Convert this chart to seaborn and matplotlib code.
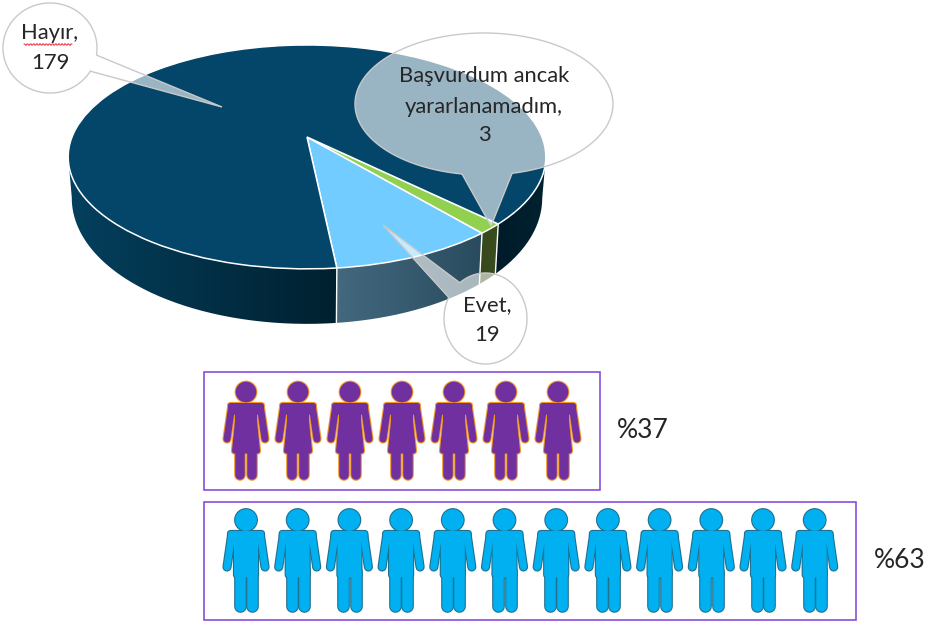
import numpy as np
import matplotlib
matplotlib.use("Agg")
import matplotlib.pyplot as plt
import matplotlib.transforms as mtransforms
from matplotlib.colors import LinearSegmentedColormap
from matplotlib.path import Path
from matplotlib.patches import PathPatch, Circle, Polygon, Rectangle
import seaborn as sns

# ---- data ----
categories = ["Evet", "Başvurdum ancak\nyararlanamadım", "Hayır"]
values = [19, 3, 179]
women_share = 37
men_share = 63
women_icons = 7
men_icons = 12

# ---- style ----
pie_colors = ["#73CCFF", "#92D04F", "#03466A"]
sns.set_theme(style="white")
plt.rcParams["font.family"] = ["Lato", "DejaVu Sans"]
TXT = "#262626"

fig = plt.figure(figsize=(9.25, 6.25), dpi=100, facecolor="white")
ax = fig.add_axes([0, 0, 1, 1])

# perspective disc: unit circle -> screen pixels
CX, CY, A, B, K = 307.0, 137.0, 235.0, 108.4, 0.178


class Disc(mtransforms.Transform):
    input_dims = 2
    output_dims = 2

    def transform_non_affine(self, xy):
        xy = np.asarray(xy, dtype=float)
        w = 1 + K * xy[:, 1]
        return np.column_stack([CX + A * xy[:, 0] / w, CY - B * xy[:, 1] / w])


START = -84.0
wedges, _ = ax.pie(values, colors=pie_colors, startangle=START, counterclock=True,
                   wedgeprops=dict(edgecolor="white", linewidth=1.1, zorder=2))
ax.set_aspect("auto")
ax.set_xlim(0, 925)
ax.set_ylim(625, 0)
ax.set_axis_off()
for w in wedges:
    w.set_transform(Disc() + ax.transData)
    w.set_clip_on(False)


def rim(deg):
    t = np.radians(deg)
    u, v = np.cos(t), np.sin(t)
    w = 1 + K * v
    x = CX + A * u / w
    y = CY - B * v / w
    xb = CX + (x - CX) * 0.985
    yb = y + 38 - 17 * v
    return x, y, xb, yb


def wall(a0, a1, c0, c1):
    th = np.linspace(a0, a1, 160)
    x, y, xb, yb = rim(th)
    verts = np.vstack([np.column_stack([x, y]), np.column_stack([xb, yb])[::-1], [[x[0], y[0]]]])
    clip = PathPatch(Path(verts), transform=ax.transData, fc="none", ec="none")
    ax.add_patch(clip)
    cmap = LinearSegmentedColormap.from_list("w", [c0, c1])
    lo, hi = min(x.min(), xb.min()), max(x.max(), xb.max())
    im = ax.imshow(np.linspace(0, 1, 256)[None, :], cmap=cmap, aspect="auto",
                   extent=(lo, hi, yb.max() + 2, y.min() - 2), zorder=1)
    im.set_clip_path(clip)


deg_per = 360.0 / sum(values)
a_evet = START + values[0] * deg_per
a_green = a_evet + values[1] * deg_per
wall(-170, START, "#04405E", "#00202F")
wall(START, a_evet, "#43697F", "#2A4B5E")
wall(a_evet, a_green, "#37491C", "#3A4D1E")
wall(a_green, -10, "#001B29", "#00222F")
for a in (START, a_evet, a_green):
    x, y, xb, yb = rim(a)
    ax.plot([x, xb], [y, yb], color="white", lw=1.0, zorder=1.5)
ax.set_xlim(0, 925)
ax.set_ylim(625, 0)


# ---- callouts ----
def callout(cx, cy, rx, ry, b1, b2, tip):
    a1 = np.arctan2((b1[1] - cy) / ry, (b1[0] - cx) / rx)
    a2 = np.arctan2((b2[1] - cy) / ry, (b2[0] - cx) / rx)
    d = (a2 - a1) % (2 * np.pi)
    if d < np.pi:
        d -= 2 * np.pi
    t = a1 + np.linspace(0, d, 200)
    pts = np.column_stack([cx + rx * np.cos(t), cy + ry * np.sin(t)])
    pts = np.vstack([pts, tip, pts[0]])
    ax.add_patch(PathPatch(Path(pts), fc=(1, 1, 1, 0.6), ec="#C9C9C9", lw=1.0, zorder=3))


callout(50, 48, 47, 45, (96, 55), (90, 71), (222, 107))
callout(484, 104, 129, 71, (462, 174), (512, 173), (491, 226))
callout(485.5, 318.5, 41.5, 45.5, (460, 283), (448, 297), (383, 225))

fs = 15.8
ax.text(50, 33, f"{categories[2]},", ha="center", va="center", fontsize=fs, color=TXT, zorder=4)
ax.text(50, 63, f"{values[2]}", ha="center", va="center", fontsize=fs, color=TXT, zorder=4)
wx = np.linspace(24, 72, 49)
ax.plot(wx, 44.5 + 0.9 * np.sin(wx * 2.0), color="#E8404A", lw=0.8, zorder=4)
lab1, lab2 = categories[1].split("\n")
ax.text(484, 76, lab1, ha="center", va="center", fontsize=fs, color=TXT, zorder=4)
ax.text(484, 107, lab2 + ",", ha="center", va="center", fontsize=fs, color=TXT, zorder=4)
ax.text(484, 135, f"{values[1]}", ha="center", va="center", fontsize=fs, color=TXT, zorder=4)
ax.text(487, 305, f"{categories[0]},", ha="center", va="center", fontsize=fs, color=TXT, zorder=4)
ax.text(487, 335, f"{values[0]}", ha="center", va="center", fontsize=fs, color=TXT, zorder=4)


# ---- pictograms ----
PX = 0.72  # points per pixel at dpi 100


def person(cx, top, fill, edge, female):
    head_y = top + 12
    s = top + 23
    if female:
        torso = [(-15.5, s + 2.5), (15.5, s + 2.5), (15.5, s + 5), (8.5, s + 11),
                 (8.5, s + 18), (11.5, s + 48), (-11.5, s + 48), (-8.5, s + 18), (-8.5, s + 11), (-15.5, s + 5)]
        leg_top, leg_dx, leg_w, bottom = s + 48, 6.2, 9.5, top + 100
        head_r = 10.3
    else:
        torso = [(-15.5, s + 2.5), (15.5, s + 2.5), (15.5, s + 5), (9.5, s + 11),
                 (9.5, s + 44), (-9.5, s + 44), (-9.5, s + 11), (-15.5, s + 5)]
        leg_top, leg_dx, leg_w, bottom = s + 40, 6.2, 10.5, top + 103
        head_r = 10.8
    for col, extra, z in ((edge, 2.2, 3), (fill, 0.0, 3.2)):
        ax.add_patch(Circle((cx, head_y), head_r + extra / 2, fc=col, ec="none", zorder=z))
        ax.add_patch(Polygon([(cx + dx, y) for dx, y in torso], closed=True, fc=col, ec=col,
                             lw=(5 + extra) * PX, joinstyle="round", zorder=z))
        for sgn in (-1, 1):
            ax.plot([cx + sgn * 14.5, cx + sgn * 19], [s + 5, top + 59], color=col,
                    lw=(7 + extra) * PX, solid_capstyle="round", zorder=z)
            ax.plot([cx + sgn * leg_dx, cx + sgn * leg_dx], [leg_top, bottom - leg_w / 2], color=col,
                    lw=(leg_w + extra) * PX, solid_capstyle="round", zorder=z)


for cx in 246 + 52.0 * np.arange(women_icons):
    person(cx, 380, "#7030A0", "#F09A2A", True)
for cx in 246 + 51.7 * np.arange(men_icons):
    person(cx, 508, "#00B0F0", "#1F6F8F", False)

BOX = "#7E3FD6"
ax.add_patch(Rectangle((204, 372), 396, 118, fc="none", ec=BOX, lw=1.1, zorder=2))
ax.add_patch(Rectangle((204, 502), 652, 118, fc="none", ec=BOX, lw=1.1, zorder=2))
ax.text(617, 431, f"%{women_share}", ha="left", va="center", fontsize=19, color=TXT)
ax.text(874, 560, f"%{men_share}", ha="left", va="center", fontsize=19, color=TXT)

fig.savefig("out.png", dpi=100, facecolor="white")
